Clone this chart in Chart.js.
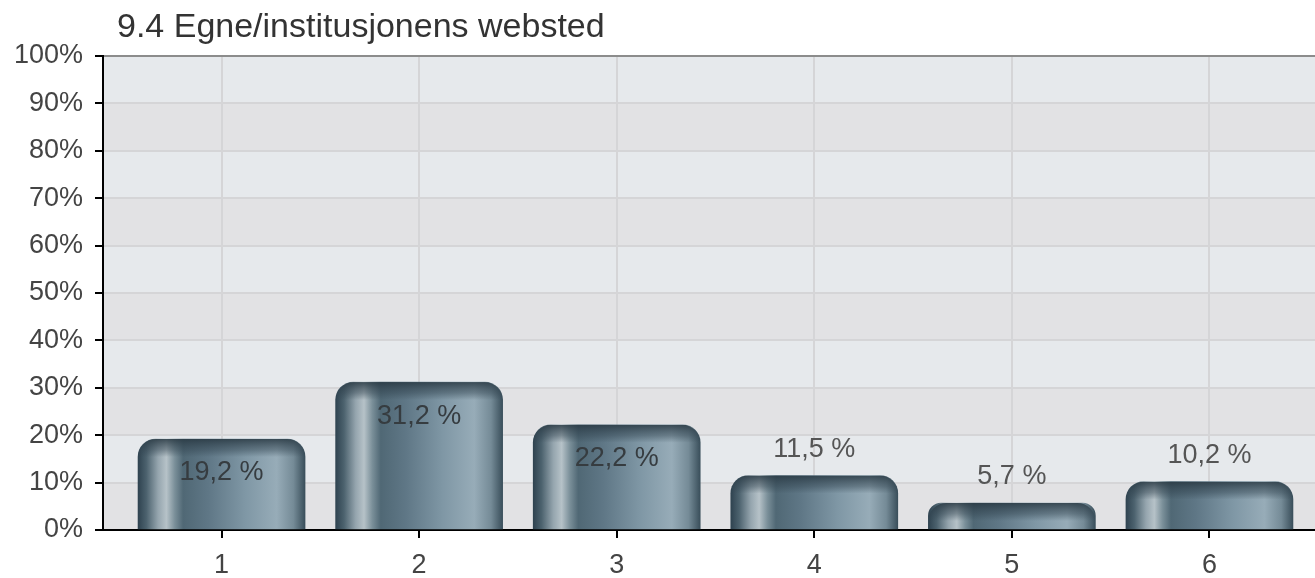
<!DOCTYPE html>
<html>
<head>
<meta charset="utf-8">
<script src="https://cdn.jsdelivr.net/npm/chart.js@4"></script>
<style>
  html, body { margin: 0; padding: 0; background: #fff; overflow: hidden; }
  #wrap { position: relative; width: 1340px; height: 578px; }
</style>
</head>
<body>
<div id="wrap"><canvas id="chart"></canvas></div>
<script>
// ── Data ──────────────────────────────────────────────────────────────────────
const chartTitle = "9.4 Egne/institusjonens websted";
const categories = [1, 2, 3, 4, 5, 6];
const percentages = [19.2, 31.2, 22.2, 11.5, 5.7, 10.2];
const yTicks = [0, 10, 20, 30, 40, 50, 60, 70, 80, 90, 100];

const BAR_W = 167;
const FONT = "'Liberation Sans', Arial, sans-serif";

// horizontal "metal tube" gradient for each bar
function barGradient(ctx) {
  const chart = ctx.chart;
  const xs = chart.scales.x;
  if (!xs || ctx.dataIndex === undefined) return "#5f7885";
  const cx = xs.getPixelForValue(categories[ctx.dataIndex]);
  if (!isFinite(cx)) return "#5f7885";
  const g = chart.ctx.createLinearGradient(cx - BAR_W / 2, 0, cx + BAR_W / 2, 0);
  g.addColorStop(0.00, "#2f4350");
  g.addColorStop(0.05, "#4c626e");
  g.addColorStop(0.12, "#95a5ae");
  g.addColorStop(0.17, "#b6c2c8");
  g.addColorStop(0.22, "#7a8f99");
  g.addColorStop(0.27, "#506875");
  g.addColorStop(0.42, "#5f7786");
  g.addColorStop(0.64, "#7f97a5");
  g.addColorStop(0.83, "#97acb8");
  g.addColorStop(0.93, "#758b97");
  g.addColorStop(1.00, "#3a4f5b");
  return g;
}

// alternating bands behind the grid
const bandsPlugin = {
  id: "bands",
  beforeDraw(chart) {
    const { ctx, chartArea: a, scales } = chart;
    const y = scales.y;
    ctx.save();
    for (let i = 0; i < yTicks.length - 1; i++) {
      const top = y.getPixelForValue(yTicks[i + 1]);
      const bot = y.getPixelForValue(yTicks[i]);
      ctx.fillStyle = i % 2 === 1 ? "#e6e9ec" : "#e2e2e4";
      ctx.fillRect(a.left, top, a.right - a.left, bot - top);
    }
    ctx.restore();
  },
};

// dark rim along the rounded top + value labels
const barDecorPlugin = {
  id: "barDecor",
  afterDatasetsDraw(chart) {
    const ctx = chart.ctx;
    const meta = chart.getDatasetMeta(0);
    const base = chart.scales.y.getPixelForValue(0);
    meta.data.forEach((bar, i) => {
      const left = bar.x - BAR_W / 2;
      const top = bar.y;
      const r = 18;
      ctx.save();
      ctx.beginPath();
      ctx.moveTo(left, base);
      ctx.lineTo(left, top + r);
      ctx.arcTo(left, top, left + r, top, r);
      ctx.lineTo(left + BAR_W - r, top);
      ctx.arcTo(left + BAR_W, top, left + BAR_W, top + r, r);
      ctx.lineTo(left + BAR_W, base);
      ctx.closePath();
      ctx.clip();
      const g = ctx.createLinearGradient(0, top, 0, top + 18);
      g.addColorStop(0, "rgba(40,56,66,0.85)");
      g.addColorStop(0.6, "rgba(50,68,80,0.45)");
      g.addColorStop(1, "rgba(50,68,80,0)");
      ctx.fillStyle = g;
      ctx.fillRect(left, top, BAR_W, 18);
      ctx.restore();

      // value label
      const v = percentages[i];
      const txt = v.toFixed(1).replace(".", ",") + " %";
      ctx.save();
      ctx.font = "27px " + FONT;
      ctx.textAlign = "center";
      ctx.textBaseline = "middle";
      if (base - top > 80) {
        ctx.fillStyle = "#363c40";
        ctx.fillText(txt, bar.x, top + 34);
      } else {
        ctx.fillStyle = "#555";
        ctx.fillText(txt, bar.x, top - 26);
      }
      ctx.restore();
    });
  },
  afterDraw(chart) {
    const ctx = chart.ctx;
    ctx.save();
    ctx.font = "34px " + FONT;
    ctx.fillStyle = "#333";
    ctx.textBaseline = "middle";
    ctx.fillText(chartTitle, 117, 28);
    ctx.restore();
  },
};

new Chart(document.getElementById("chart"), {
  type: "bar",
  data: {
    datasets: [{
      data: categories.map((c, i) => ({ x: c, y: percentages[i] })),
      backgroundColor: barGradient,
      borderWidth: 0,
      borderRadius: { topLeft: 18, topRight: 18, bottomLeft: 0, bottomRight: 0 },
      borderSkipped: "bottom",
      barThickness: BAR_W,
    }],
  },
  options: {
    responsive: true,
    maintainAspectRatio: false,
    animation: false,
    layout: { padding: { top: 56, right: 12, left: 0, bottom: 0 } },
    plugins: {
      legend: { display: false },
      tooltip: { enabled: false },
      title: { display: false },
    },
    scales: {
      x: {
        type: "linear",
        min: 0.4,
        max: 6.6,
        offset: false,
        afterBuildTicks: (axis) => { axis.ticks = categories.map((v) => ({ value: v })); },
        afterFit: (axis) => { axis.height = 48; },
        grid: { offset: false, color: "#d5d5d7", lineWidth: 2, tickColor: "#000", tickLength: 8, tickWidth: 2 },
        border: { color: "#000", width: 2 },
        ticks: { color: "#444", font: { size: 27, family: FONT }, padding: 11, maxRotation: 0 },
      },
      y: {
        min: 0,
        max: 100,
        afterBuildTicks: (axis) => { axis.ticks = yTicks.map((v) => ({ value: v })); },
        afterFit: (axis) => { axis.width = 103; },
        grid: {
          color: (c) => (c.tick && c.tick.value === 100 ? "#8c8c8c" : "#d5d5d7"),
          lineWidth: 2,
          tickColor: "#000",
          tickLength: 8,
          tickWidth: 2,
        },
        border: { color: "#000", width: 2 },
        ticks: {
          color: "#444",
          font: { size: 27, family: FONT },
          padding: 12,
          callback: (v) => v + "%",
        },
      },
    },
  },
  plugins: [bandsPlugin, barDecorPlugin],
});
</script>
</body>
</html>
